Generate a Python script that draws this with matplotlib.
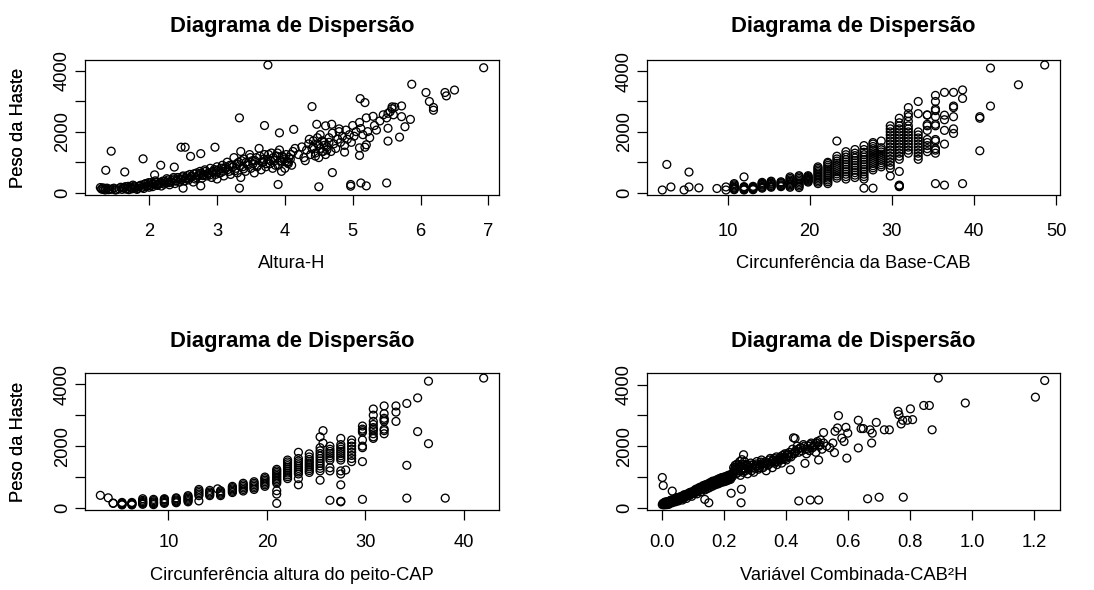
import numpy as np
import matplotlib.pyplot as plt

plt.rcParams['font.family'] = ['Liberation Sans', 'DejaVu Sans']

# Altura-H x Peso da Haste
altura = [1.28, 1.30, 1.33, 1.35, 1.38, 1.40, 1.45, 1.50, 1.55, 1.60, 1.62, 1.65, 1.68, 1.70,
          1.72, 1.75, 1.78, 1.80, 1.82, 1.85, 1.88, 1.90, 1.92, 1.95, 1.97, 2.00, 2.00, 2.02,
          2.05, 2.08, 2.10, 2.12, 2.15, 2.18, 2.20, 2.22, 2.25, 2.28, 2.30, 2.32, 2.35, 2.38,
          2.40, 2.42, 2.45, 2.48, 2.50, 2.50, 2.52, 2.55, 2.58, 2.60, 2.62, 2.65, 2.68, 2.70,
          2.72, 2.75, 2.78, 2.80, 2.82, 2.85, 2.88, 2.90, 2.92, 2.95, 2.98, 3.00, 3.00, 3.02,
          3.05, 3.08, 3.10, 3.12, 3.15, 3.18, 3.20, 3.22, 3.25, 3.28, 3.30, 3.32, 3.35, 3.35,
          3.38, 3.40, 3.42, 3.45, 3.48, 3.50, 3.52, 3.55, 3.58, 3.60, 3.62, 3.65, 3.68, 3.70,
          3.72, 3.75, 3.78, 3.80, 3.82, 3.85, 3.88, 3.90, 3.92, 3.95, 3.98, 4.00, 4.02, 4.05,
          4.08, 4.10, 4.12, 4.15, 4.20, 4.25, 4.28, 4.30, 4.32, 4.35, 4.38, 4.40, 4.42, 4.45,
          4.48, 4.50, 4.50, 4.52, 4.55, 4.58, 4.60, 4.62, 4.65, 4.68, 4.70, 4.72, 4.75, 4.78,
          4.80, 4.82, 4.85, 4.88, 4.90, 4.92, 4.95, 4.98, 5.00, 5.02, 5.05, 5.10, 5.12, 5.15,
          5.20, 5.22, 5.25, 5.30, 5.32, 5.35, 5.40, 5.45, 5.50, 5.52, 5.55, 5.58, 5.60, 5.62,
          4.05, 3.95,
          3.75, 6.93, 5.87, 6.08, 6.13, 6.19, 6.19, 6.36, 6.38, 6.50, 4.40, 3.33, 5.11, 5.18,
          3.70, 3.92, 4.13, 4.47, 4.60, 4.69, 5.72, 5.58, 5.72, 5.85, 5.77, 5.69, 5.52, 5.52,
          5.10, 1.44, 1.36, 1.64, 1.91, 2.17, 2.37, 2.47, 2.53, 2.61, 2.76, 2.97, 2.08, 4.70,
          3.90, 4.50, 4.97, 4.97, 5.12, 5.20, 5.50, 3.33, 2.76, 4.88, 5.18, 5.10, 5.20, 4.80]
peso_h = [170, 130, 110, 90, 150, 100, 120, 90, 130, 110, 170, 200, 140, 100,
          180, 130, 220, 160, 110, 200, 250, 180, 140, 300, 220, 260, 180, 330,
          200, 280, 350, 240, 300, 220, 380, 280, 330, 420, 260, 350, 450, 300,
          400, 500, 350, 450, 550, 150, 380, 480, 420, 600, 520, 350, 450, 650,
          550, 700, 480, 600, 750, 550, 650, 800, 500, 700, 600, 850, 450, 750,
          650, 900, 550, 800, 1000, 700, 600, 900, 1150, 800, 650, 1000, 1350, 500,
          850, 1100, 700, 950, 1250, 800, 1050, 650, 1150, 900, 1450, 750, 1000, 1250,
          850, 1100, 950, 1300, 800, 1050, 1200, 900, 1400, 1000, 1150, 800, 1250, 950,
          1100, 900, 1350, 1450, 1250, 1500, 1150, 1050, 1400, 1600, 1250, 1450, 1700, 1300,
          1800, 1550, 1150, 1900, 1350, 1650, 1250, 1500, 1800, 1350, 1950, 1600, 1450, 1750,
          2000, 1650, 1850, 1550, 2050, 1750, 1900, 1650, 2200, 1850, 2000, 2300, 2100, 1900,
          2450, 2000, 1800, 2500, 2200, 2050, 2350, 2550, 2450, 2600, 2650, 2750, 2550, 2800,
          1000, 700,
          4180, 4090, 3550, 3280, 2985, 2790, 2700, 3280, 3170, 3360, 2820, 2450, 3080, 2950,
          2200, 1960, 2075, 2240, 2190, 2240, 2840, 2810, 2490, 2400, 2160, 1820, 2110, 1690,
          1220, 1360, 735, 680, 1110, 900, 840, 1490, 1490, 1190, 1280, 1490, 585, 660,
          270, 195, 270, 215, 320, 225, 320, 150, 225, 1330, 1490, 1470, 1570, 2090]
# mais árvores da faixa central (altura, peso)
altura_peso_extra = [
    (1.30, 120), (1.32, 160), (1.36, 140), (1.42, 110), (1.48, 150), (1.52, 100),
    (1.58, 180), (1.63, 150), (1.66, 120), (1.69, 210), (1.73, 160), (1.76, 250),
    (1.79, 190), (1.83, 140), (1.86, 230), (1.89, 170), (1.93, 280), (1.96, 210),
    (1.99, 330), (2.03, 240), (2.06, 300), (2.09, 390), (2.13, 270), (2.16, 340),
    (2.19, 310), (2.23, 380), (2.26, 460), (2.29, 330), (2.33, 400), (2.36, 500),
    (2.39, 380), (2.43, 450), (2.46, 420), (2.49, 520), (2.53, 460), (2.56, 560),
    (2.59, 480), (2.63, 540), (2.66, 620), (2.69, 500), (2.73, 580), (2.76, 640),
    (2.79, 560), (2.83, 700), (2.86, 620), (2.89, 580), (2.93, 680), (2.96, 760),
    (2.99, 720), (3.03, 640), (3.06, 800), (3.09, 700), (3.13, 850), (3.16, 760),
    (3.19, 900), (3.23, 840), (3.26, 720), (3.29, 950), (3.33, 880), (3.36, 1050),
    (3.39, 780), (3.43, 1000), (3.46, 900), (3.49, 1150), (3.53, 950), (3.56, 1050),
    (3.59, 850), (3.63, 1200), (3.66, 1000), (3.69, 1100), (3.73, 950), (3.76, 1250),
    (3.79, 1050), (3.83, 1150), (3.86, 900), (3.89, 1300), (3.93, 1050), (3.96, 1200),
    (3.99, 1100), (4.03, 1000), (4.06, 1150), (4.09, 1250), (4.45, 1200), (4.48, 1600),
    (4.52, 1450), (4.55, 1700), (4.58, 1550), (4.62, 1400), (4.65, 1650), (4.36, 1750),
    (4.42, 1500), (4.56, 1350),
]

# Circunferência da Base-CAB x Peso da Haste (medidas agrupadas por classe)
cab_classes = [2.05, 2.6, 3.1, 4.7, 5.3, 6.5, 8.7, 9.8, 10.8, 12.0, 13.1, 14.2, 15.3, 16.5,
               17.6, 18.7, 19.8, 21.0, 22.2, 23.3, 24.4, 25.5, 26.6, 27.7, 28.7, 29.8, 30.9,
               32.0, 33.2, 34.3, 35.3, 36.4, 37.5, 38.6, 40.7, 42.0, 45.4, 48.6]
cab_peso = [
    [90], [930], [190], [90], [680, 190], [160], [140], [190, 90],
    [100, 120, 150, 180, 220, 260, 300],
    [90, 110, 130, 160, 180, 200, 520],
    [100, 120, 140, 160, 180, 210],
    [150, 180, 210, 250, 280, 310, 340],
    [180, 210, 240, 280, 310, 350, 380],
    [200, 230, 260, 300, 330, 360],
    [180, 220, 260, 300, 340, 380, 420, 470, 520],
    [170, 220, 270, 320, 370, 420, 470, 520, 560],
    [350, 380, 410, 440, 470, 500, 530, 560],
    [300, 350, 400, 450, 500, 550, 600, 650, 700, 750, 800, 850],
    [300, 360, 420, 480, 540, 600, 660, 720, 780, 840, 900, 960, 1000],
    [480, 550, 620, 690, 760, 830, 900, 970, 1040, 1110, 1200, 1700],
    [450, 530, 610, 690, 770, 850, 930, 1010, 1090, 1170, 1250, 1350],
    [500, 580, 660, 740, 820, 900, 980, 1060, 1140, 1220, 1300, 1420],
    [150, 450, 530, 610, 690, 770, 850, 930, 1010, 1090, 1170, 1250, 1330, 1420, 1550],
    [150, 750, 820, 890, 960, 1030, 1100, 1170, 1240, 1310, 1380, 1450, 1520, 1600, 1650],
    [850, 920, 990, 1060, 1130, 1200, 1270, 1340, 1410, 1480, 1700],
    [550, 800, 900, 1000, 1100, 1200, 1300, 1400, 1500, 1600, 1700, 1800, 1900, 2000,
     2100, 2200],
    [200, 215, 230, 250, 700, 1100, 1200, 1300, 1400, 1500, 1600, 1700, 1800, 1900, 2000,
     2100, 2200, 2300, 2450],
    [1300, 1400, 1500, 1600, 1700, 1800, 1900, 2000, 2100, 2200, 2350, 2500, 2600, 2800],
    [1100, 1200, 1300, 1400, 1500, 1600, 1700, 1800, 1900, 2000, 2600, 3000],
    [1350, 1450, 1550, 1650, 1750, 2050, 2200, 2250, 2550, 2560],
    [300, 1300, 1400, 1450, 1700, 1750, 2200, 2250, 2500, 2700, 2750, 3000, 3200],
    [250, 1600, 2050, 2400, 2550, 3300],
    [1950, 2100, 2500, 2800, 2850, 3300],
    [300, 3100, 3380],
    [1380, 2450, 2500],
    [2850, 4100],
    [3550],
    [4200],
]

# Circunferência altura do peito-CAP x Peso da Haste
cap_classes = [3.1, 3.9, 4.4, 5.3, 6.3, 7.4, 8.5, 9.6, 10.8, 12.0, 13.1, 14.2, 15.0, 15.3,
               16.5, 17.6, 18.7, 19.8, 21.0, 22.1, 23.2, 24.3, 25.4, 25.7, 26.4, 27.5, 28.0,
               28.6, 29.7, 30.8, 31.9, 33.1, 34.2, 35.3, 36.4, 38.1, 42.0]
cap_peso = [
    [410], [330], [150, 160],
    [100, 120, 140, 160, 180],
    [100, 120, 140, 160, 180],
    [120, 150, 180, 210, 250, 300],
    [110, 140, 170, 200, 240, 280],
    [150, 180, 210, 250, 280, 300],
    [170, 200, 230, 260, 300, 330],
    [200, 240, 280, 320, 360, 400],
    [230, 400, 450, 500, 550, 600],
    [400, 440, 480, 520, 570],
    [620],
    [400, 440, 480, 520, 560],
    [500, 540, 580, 620, 660, 700],
    [550, 600, 650, 700, 750, 800],
    [600, 650, 700, 750, 800, 850],
    [700, 750, 800, 850, 900, 950, 1000],
    [150, 450, 560, 800, 850, 900, 950, 1000, 1050, 1100, 1150, 1200, 1250],
    [950, 1010, 1070, 1130, 1190, 1250, 1310, 1370, 1430, 1490, 1550],
    [750, 950, 1100, 1160, 1220, 1280, 1340, 1400, 1460, 1520, 1600, 1800],
    [1150, 1210, 1270, 1330, 1390, 1450, 1510, 1570, 1650, 1750],
    [900, 1200, 1280, 1360, 1440, 1520, 1600, 1680, 1760, 1850, 1950, 2300],
    [2100, 2500],
    [250, 1200, 1300, 1550, 1620, 1690, 1760, 1830, 1900, 2000],
    [200, 220, 750, 1100, 1200, 1550, 1620, 1690, 1760, 1830, 1900, 1970, 2050, 2250],
    [1230],
    [1500, 1600, 1700, 1800, 1900, 2000, 2100, 2200],
    [280, 1500, 1950, 2000, 2200, 2450, 2500, 2550, 2650],
    [2250, 2300, 2400, 2500, 2550, 2600, 2700, 2800, 3000, 3200],
    [2400, 2500, 2550, 2800, 2850, 2900, 3050, 3300],
    [2800, 3100, 3300],
    [320, 1380, 3380],
    [2470, 3560],
    [2080, 4100],
    [320],
    [4200],
]

# Variável Combinada-CAB²H x Peso da Haste
comb = [0.000, 0.002, 0.005, 0.008, 0.010, 0.012, 0.015, 0.018, 0.020, 0.022, 0.025, 0.028,
        0.030, 0.032, 0.035, 0.038, 0.040, 0.042, 0.045, 0.048, 0.050, 0.052, 0.055, 0.058,
        0.060, 0.062, 0.065, 0.068, 0.070, 0.072, 0.075, 0.078, 0.080, 0.082, 0.085, 0.088,
        0.090, 0.092, 0.095, 0.098, 0.100, 0.102, 0.105, 0.108, 0.110, 0.112, 0.115, 0.118,
        0.120, 0.122, 0.125, 0.128, 0.130, 0.132, 0.135, 0.138, 0.140, 0.142, 0.145, 0.148,
        0.150, 0.152, 0.155, 0.158, 0.160, 0.162, 0.165, 0.168, 0.170, 0.172, 0.175, 0.178,
        0.180, 0.182, 0.185, 0.188, 0.190, 0.192, 0.195, 0.198, 0.200, 0.202, 0.205, 0.208,
        0.210, 0.212, 0.215, 0.218, 0.220, 0.222, 0.225, 0.228, 0.230, 0.232, 0.235, 0.238,
        0.240, 0.242, 0.245, 0.248, 0.250, 0.252, 0.255, 0.258, 0.260, 0.262, 0.265, 0.268,
        0.270, 0.275, 0.280, 0.285, 0.290, 0.295, 0.300, 0.305, 0.310, 0.315, 0.320, 0.325,
        0.330, 0.335, 0.340, 0.345, 0.350, 0.355, 0.360, 0.365, 0.370, 0.375, 0.380, 0.385,
        0.390, 0.395, 0.400, 0.405, 0.410, 0.415, 0.420, 0.425, 0.430, 0.435, 0.440, 0.445,
        0.450, 0.455, 0.460, 0.465, 0.470, 0.475, 0.480, 0.485, 0.490, 0.495, 0.500, 0.505,
        0.510, 0.515, 0.520, 0.530, 0.540, 0.550,
        0.000, 0.003, 0.032, 0.137, 0.150, 0.222, 0.254, 0.255, 0.262, 0.257, 0.440, 0.477,
        0.504, 0.662, 0.699, 0.777, 0.413, 0.460, 0.504, 0.423, 0.428, 0.520, 0.555, 0.568,
        0.557, 0.565, 0.592, 0.598, 0.579, 0.586, 0.595, 0.632, 0.632, 0.641, 0.648, 0.670,
        0.677, 0.675, 0.690, 0.716, 0.732, 0.760, 0.763, 0.775, 0.770, 0.790, 0.807, 0.800,
        0.843, 0.861, 0.870, 0.890, 0.977, 1.203, 1.233]
peso_c = [100, 140, 90, 180, 120, 160, 100, 200, 150, 130, 220, 180,
          250, 160, 200, 280, 230, 190, 310, 260, 300, 220, 340, 280,
          360, 310, 250, 390, 330, 420, 370, 300, 430, 380, 470, 400,
          500, 440, 370, 520, 470, 550, 490, 600, 530, 450, 620, 560,
          660, 600, 520, 680, 620, 720, 650, 580, 750, 690, 620, 780,
          720, 650, 820, 760, 690, 860, 790, 730, 880, 820, 760, 920,
          850, 780, 950, 880, 820, 980, 900, 840, 1000, 930, 860, 1030,
          960, 890, 1060, 980, 920, 1080, 1000, 1120, 1300, 1200, 1380, 1100,
          1250, 1420, 1150, 1320, 1500, 1050, 1250, 1400, 1150, 1300, 1500, 1200,
          1350, 1100, 1250, 1450, 1300, 1150, 1350, 1500, 1250, 1400, 1550, 1300,
          1450, 1200, 1380, 1550, 1450, 1300, 1600, 1500, 1400, 1550, 1650, 1450,
          1600, 1750, 1550, 1700, 1800, 1650, 1900, 1750, 1850, 2000, 1800, 1950,
          1850, 2050, 1900, 1750, 2000, 1850, 2100, 1950, 2050, 1800, 2150, 2000,
          2200, 1900, 2100, 2000, 1950, 2100,
          980, 720, 540, 270, 160, 470, 160, 600, 1720, 1560, 220, 250,
          250, 290, 340, 340, 1230, 1440, 1550, 2270, 2250, 2440, 1790, 2990,
          2480, 2590, 2610, 2420, 2260, 2150, 1610, 1940, 2840, 2570, 2570, 2530,
          2420, 2100, 2770, 2530, 2530, 3130, 3020, 2840, 2720, 2840, 2860, 3210,
          3320, 3320, 2530, 4210, 3400, 3590, 4130]
comb_peso_extra = [
    (0.004, 110), (0.006, 150), (0.009, 130), (0.011, 100), (0.013, 190), (0.016, 140),
    (0.019, 170), (0.021, 110), (0.024, 160), (0.027, 240), (0.029, 200), (0.033, 230),
    (0.036, 260), (0.039, 210), (0.043, 270), (0.046, 240), (0.049, 330), (0.053, 290),
    (0.056, 310), (0.059, 350), (0.063, 340), (0.066, 300), (0.069, 410), (0.073, 350),
    (0.076, 400), (0.079, 440), (0.083, 420), (0.086, 450), (0.089, 470), (0.093, 480),
    (0.096, 450), (0.099, 500), (0.103, 520), (0.106, 560), (0.109, 500), (0.113, 580),
    (0.116, 590), (0.119, 620), (0.123, 640), (0.126, 600), (0.129, 650), (0.133, 690),
    (0.136, 700), (0.139, 660), (0.143, 730), (0.146, 700), (0.149, 750), (0.153, 770),
    (0.156, 740), (0.159, 800), (0.163, 820), (0.166, 760), (0.169, 840), (0.173, 850),
    (0.176, 800), (0.179, 880), (0.183, 900), (0.186, 840), (0.189, 920), (0.193, 940),
    (0.196, 870), (0.199, 960), (0.203, 970), (0.206, 900), (0.209, 1000), (0.213, 1020),
    (0.216, 940), (0.219, 1040), (0.233, 1250), (0.237, 1320), (0.243, 1200), (0.247, 1400),
    (0.253, 1350), (0.257, 1200), (0.263, 1400), (0.267, 1280), (0.273, 1400), (0.278, 1300),
    (0.283, 1380), (0.288, 1200), (0.293, 1400), (0.298, 1280), (0.303, 1420), (0.308, 1350),
    (0.313, 1300), (0.318, 1480), (0.323, 1420), (0.328, 1350), (0.333, 1500), (0.338, 1450),
    (0.343, 1400), (0.348, 1600), (0.353, 1500), (0.358, 1550), (0.363, 1450), (0.368, 1650),
    (0.373, 1500), (0.378, 1600), (0.383, 1550), (0.388, 1700), (0.393, 1650), (0.398, 1600),
    (0.403, 1750), (0.408, 1650), (0.418, 1750), (0.428, 1800), (0.438, 1900), (0.448, 1950),
    (0.458, 2000), (0.468, 1900), (0.478, 2050), (0.488, 2000), (0.498, 2100), (0.508, 2050),
]

altura = altura + [a for a, _ in altura_peso_extra]
peso_h = peso_h + [p for _, p in altura_peso_extra]
comb = comb + [c for c, _ in comb_peso_extra]
peso_c = peso_c + [p for _, p in comb_peso_extra]
cab = [c for c, ys in zip(cab_classes, cab_peso) for _ in ys]
peso_cab = [y for ys in cab_peso for y in ys]
cap = [c for c, ys in zip(cap_classes, cap_peso) for _ in ys]
peso_cap = [y for ys in cap_peso for y in ys]

W, H = 1094, 590
fig = plt.figure(figsize=(W / 100, H / 100), dpi=100)


def painel(box, x, y, xlabel, xticks, xfmt, tpad, xpad, xlab_y):
    l, t, r, b = box
    ax = fig.add_axes([l / W, 1 - b / H, (r - l) / W, (b - t) / H])
    ax.scatter(x, y, s=32, facecolors='none', edgecolors='black', linewidths=0.95)
    ax.margins(0.04)
    ax.set_xticks(xticks)
    ax.set_xticklabels([xfmt.format(v) for v in xticks])
    ax.set_yticks([0, 1000, 2000, 3000, 4000])
    ax.set_yticklabels(['0', '', '2000', '', '4000'])
    ax.tick_params(direction='out', length=7, width=0.9, labelsize=13.2)
    ax.tick_params(axis='x', pad=xpad)
    ax.tick_params(axis='y', labelrotation=90, pad=3)
    for lb in ax.get_yticklabels():
        lb.set_va('center')
    for s in ax.spines.values():
        s.set_linewidth(0.9)
    ax.set_title('Diagrama de Dispersão', fontsize=15.8, fontweight='bold', pad=tpad)
    ax.set_xlabel(xlabel, fontsize=13.2, va='center')
    ax.xaxis.set_label_coords(0.5, -(xlab_y - b) / (b - t))
    ax.set_ylabel('Peso da Haste', fontsize=13.2, va='center')
    ax.yaxis.set_label_coords(-(l - 19) / (r - l), 0.5)
    return ax


painel((85, 60, 499, 195), altura, peso_h, 'Altura-H', [2, 3, 4, 5, 6, 7], '{:d}',
       20.3, 13, 263)
painel((647, 60, 1060, 195), cab, peso_cab, 'Circunferência da Base-CAB',
       [10, 20, 30, 40, 50], '{:d}', 20.3, 13, 263)
painel((85, 373, 499, 510), cap, peso_cap, 'Circunferência altura do peito-CAP',
       [10, 20, 30, 40], '{:d}', 18.9, 10.5, 575)
painel((647, 373, 1060, 510), comb, peso_c, 'Variável Combinada-CAB²H',
       [0.0, 0.2, 0.4, 0.6, 0.8, 1.0, 1.2], '{:.1f}', 18.9, 10.5, 575)

fig.savefig('out.png', dpi=100)
